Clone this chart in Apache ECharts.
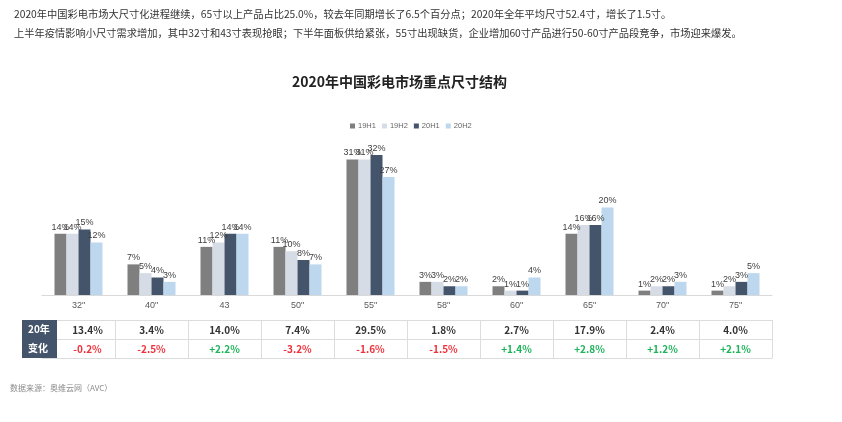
<!DOCTYPE html>
<html>
<head>
<meta charset="utf-8">
<script src="https://cdn.jsdelivr.net/npm/echarts@6/dist/echarts.min.js"></script>
<style>
html,body{margin:0;padding:0;background:#fff;}
#main{width:842px;height:422px;}
</style>
</head>
<body>
<div id="main"></div>
<script>
const categories = ['32"', '40"', '43', '50"', '55"', '58"', '60"', '65"', '70"', '75"'];
const seriesNames = ['19H1', '19H2', '20H1', '20H2'];
const s19H1 = [14, 7, 11, 11, 31, 3, 2, 14, 1, 1];
const s19H2 = [14, 5, 12, 10, 31, 3, 1, 16, 2, 2];
const s20H1 = [15, 4, 14, 8, 32, 2, 1, 16, 2, 3];
const s20H2 = [12, 3, 14, 7, 27, 2, 4, 20, 3, 5];
const yearShare = ['13.4%', '3.4%', '14.0%', '7.4%', '29.5%', '1.8%', '2.7%', '17.9%', '2.4%', '4.0%'];
const yearChange = ['-0.2%', '-2.5%', '+2.2%', '-3.2%', '-1.6%', '-1.5%', '+1.4%', '+2.8%', '+1.2%', '+2.1%'];
const colors = ['#7f7f7f', '#d6dce5', '#44546a', '#bdd7ee'];
const headline1 = '2020年中国彩电市场大尺寸化进程继续，65寸以上产品占比25.0%，较去年同期增长了6.5个百分点；2020年全年平均尺寸52.4寸，增长了1.5寸。';
const headline2 = '上半年疫情影响小尺寸需求增加，其中32寸和43寸表现抢眼；下半年面板供给紧张，55寸出现缺货，企业增加60寸产品进行50-60寸产品段竞争，市场迎来爆发。';

const chart = echarts.init(document.getElementById('main'));
const cjk = '"Noto Sans CJK SC", sans-serif';
const lat = '"Liberation Sans", Arial, sans-serif';
const seriesData = [s19H1, s19H2, s20H1, s20H2];

function tableAxis(offset, showLabel, fmt, colorFn, tickLen) {
  return {
    type: 'category', data: categories, position: 'bottom', offset: offset,
    gridIndex: 0,
    axisLine: {show: true, lineStyle: {color: '#dcdcdc', width: 1}},
    axisTick: {show: tickLen > 0, interval: 0, length: tickLen, lineStyle: {color: '#dcdcdc'}},
    axisLabel: {
      show: showLabel, interval: 0, margin: 5,
      formatter: fmt,
      color: colorFn,
      fontSize: 10, fontWeight: 'bold', fontFamily: cjk
    },
    splitLine: {show: false}
  };
}

const option = {
  backgroundColor: '#ffffff',
  animation: false,
  title: {
    text: '2020年中国彩电市场重点尺寸结构',
    left: 287, top: 70,
    textStyle: {fontSize: 14, fontWeight: 'bold', color: '#222', fontFamily: cjk}
  },
  legend: {
    data: seriesNames,
    left: 350, top: 122, padding: 0,
    icon: 'rect', itemWidth: 5, itemHeight: 5, itemGap: 6,
    textStyle: {fontSize: 7.5, color: '#666', fontFamily: lat, padding: [0, 0, 0, -2]}
  },
  grid: {left: 42, right: 70, top: 120, bottom: 127, containLabel: false},
  xAxis: [
    {
      type: 'category', data: categories,
      axisLine: {show: true, lineStyle: {color: '#d9d9d9'}},
      axisTick: {show: false},
      axisLabel: {interval: 0, margin: 6, fontSize: 9, color: '#595959', fontFamily: lat}
    },
    tableAxis(25, true, function (v, i) { return i === 0 ? '{f|' + yearShare[i] + '}' : yearShare[i]; }, '#333', 38),
    tableAxis(44, true, function (v, i) { return i === 0 ? '{f|' + yearChange[i] + '}' : yearChange[i]; },
      function (v, i) { return yearChange[i].charAt(0) === '+' ? '#1db45a' : '#f0303a'; }, 0),
    tableAxis(63, false, null, '#333', 0)
  ],
  yAxis: {type: 'value', min: 0, max: 40, show: false, splitLine: {show: false}},
  series: seriesNames.map(function (name, k) {
    return {
      name: name, type: 'bar', data: seriesData[k],
      xAxisIndex: 0,
      barWidth: 12, barGap: '0%',
      itemStyle: {color: colors[k]},
      label: {
        show: true, position: 'top', distance: 2,
        formatter: '{c}%', fontSize: 9, color: '#404040', fontFamily: lat
      }
    };
  }),
  graphic: [
    {type: 'text', left: 14, top: 9, style: {text: headline1, fill: '#333', font: '10.25px "Noto Sans CJK SC"'}},
    {type: 'text', left: 14, top: 28, style: {text: headline2, fill: '#333', font: '10.25px "Noto Sans CJK SC"'}},
    {type: 'rect', left: 22, top: 320, shape: {width: 35, height: 38}, style: {fill: '#44546a'}, z: 100},
    {type: 'text', left: 28, top: 324, style: {text: '20年', fill: '#fff', font: 'bold 10px "Noto Sans CJK SC"'}, z: 101},
    {type: 'text', left: 28, top: 343, style: {text: '变化', fill: '#fff', font: 'bold 10px "Noto Sans CJK SC"'}, z: 101},
    {type: 'text', left: 10, top: 384, style: {text: '数据来源：奥维云网（AVC）', fill: '#8c8c8c', font: '8px "Noto Sans CJK SC"'}}
  ]
};
option.xAxis[1].axisLabel.rich = {f: {padding: [0, 0, 0, 18], fontSize: 10, fontWeight: 'bold', fontFamily: cjk, color: '#333'}};
option.xAxis[2].axisLabel.rich = {f: {padding: [0, 0, 0, 18], fontSize: 10, fontWeight: 'bold', fontFamily: cjk, color: '#f0303a'}};
chart.setOption(option);
</script>
</body>
</html>
